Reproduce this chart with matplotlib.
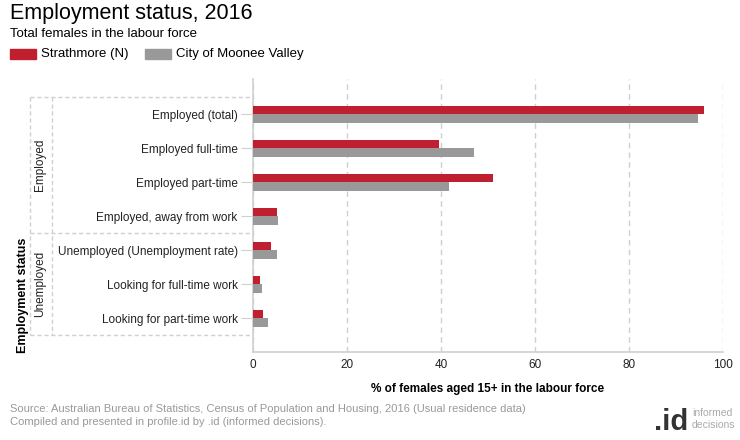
import matplotlib.pyplot as plt
import numpy as np
from matplotlib.transforms import blended_transform_factory

plt.rcParams['font.family'] = ['Liberation Sans', 'DejaVu Sans']

categories = ["Employed (total)", "Employed full-time", "Employed part-time",
              "Employed, away from work", "Unemployed (Unemployment rate)",
              "Looking for full-time work", "Looking for part-time work"]
strathmore = [95.9, 39.5, 51.0, 5.2, 3.9, 1.4, 2.2]
moonee_valley = [94.6, 47.1, 41.8, 5.4, 5.2, 2.0, 3.1]
groups = [("Employed", 0, 3), ("Unemployed", 4, 6)]
xticks = [0, 20, 40, 60, 80, 100]

RED = '#c01f2f'
GREY = '#999999'
LINE = '#d0d0d0'

W, H = 740, 440
fig = plt.figure(figsize=(W / 100, H / 100), dpi=100)
ax = fig.add_axes([253 / W, 1 - 352 / H, (723 - 253) / W, (352 - 79) / H])

y = np.arange(len(categories))
bh = 0.25
ax.barh(y - bh / 2, strathmore, height=bh, color=RED, zorder=3)
ax.barh(y + bh / 2, moonee_valley, height=bh, color=GREY, zorder=3)

ax.set_xlim(0, 100)
ax.set_ylim(7.0, -1.03)
ax.set_xticks(xticks)
ax.set_xticklabels([str(t) for t in xticks], fontsize=8.5, color='#222222')
ax.set_yticks(y)
ax.set_yticklabels(categories, fontsize=8.5, color='#222222')
ax.tick_params(axis='x', length=0, pad=5)
ax.tick_params(axis='y', length=9, color=LINE, pad=2)
for t in ax.yaxis.get_ticklines():
    t.set_linestyle((0, (2, 2)))
ax.grid(axis='x', color=LINE, linestyle=(0, (4, 3)), linewidth=1, zorder=0)
for s in ['top', 'right']:
    ax.spines[s].set_visible(False)
ax.spines['left'].set_color(LINE)
ax.spines['bottom'].set_color(LINE)
ax.spines['left'].set_linewidth(1.2)
ax.spines['bottom'].set_linewidth(1.2)
ax.set_xlabel("% of females aged 15+ in the labour force", fontsize=8.5,
              fontweight='bold', labelpad=9)

# left hierarchy frame
tr = blended_transform_factory(fig.transFigure, ax.transData)
dash = dict(color=LINE, linestyle=(0, (3, 2)), linewidth=1, transform=tr, clip_on=False)
for yy in [-0.5, 3.5, 6.5]:
    ax.plot([30 / W, 253 / W], [yy, yy], **dash)
for xx in [30, 52]:
    ax.plot([xx / W, xx / W], [-0.5, 6.5], **dash)
for name, a, b in groups:
    ax.text(40 / W, (a + b) / 2, name, transform=tr, rotation=90, ha='center',
            va='center', fontsize=8.5, color='#222222')
ax.text(23 / W, 1 - 295 / H, "Employment status", transform=fig.transFigure,
        rotation=90, ha='center', va='center', fontsize=9, fontweight='bold')

# header
fig.text(10 / W, 1 - 14 / H, "Employment status, 2016", fontsize=15.5, va='center')
fig.text(10 / W, 1 - 34 / H, "Total females in the labour force", fontsize=9.5, va='center')
fig.patches.append(plt.Rectangle((10 / W, 1 - 59 / H), 26 / W, 10 / H,
                                 color=RED, transform=fig.transFigure))
fig.text(41 / W, 1 - 54 / H, "Strathmore (N)", fontsize=9.5, va='center')
fig.patches.append(plt.Rectangle((145 / W, 1 - 59 / H), 26 / W, 10 / H,
                                 color=GREY, transform=fig.transFigure))
fig.text(176 / W, 1 - 54 / H, "City of Moonee Valley", fontsize=9.5, va='center')

# footer
fig.text(10 / W, 1 - 409 / H,
         "Source: Australian Bureau of Statistics, Census of Population and Housing, 2016 (Usual residence data)",
         fontsize=8, color='#999999', va='center')
fig.text(10 / W, 1 - 422 / H,
         "Compiled and presented in profile.id by .id (informed decisions).",
         fontsize=8, color='#999999', va='center')
fig.text(654 / W, 1 - 430 / H, ".id", fontsize=21, fontweight='bold',
         color='#333333', va='baseline')
fig.text(692 / W, 1 - 413 / H, "informed", fontsize=7.5, color='#aaaaaa', va='center')
fig.text(692 / W, 1 - 425 / H, "decisions", fontsize=7.5, color='#aaaaaa', va='center')

fig.savefig("out.png", dpi=100)
